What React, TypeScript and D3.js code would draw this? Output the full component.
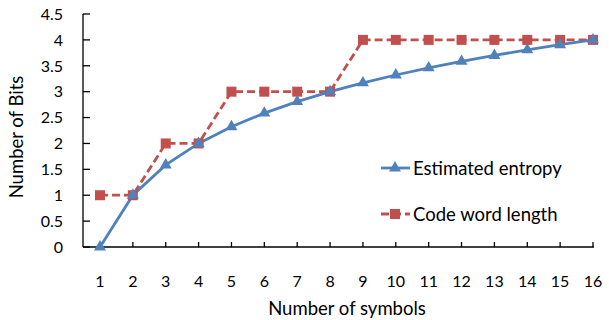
import React from "react";
import * as d3 from "d3";

const symbols = [1, 2, 3, 4, 5, 6, 7, 8, 9, 10, 11, 12, 13, 14, 15, 16];
const entropy = [0, 1, 1.585, 2, 2.322, 2.585, 2.807, 3, 3.17, 3.322, 3.459, 3.585, 3.7, 3.807, 3.907, 4];
const codeLength = [1, 1, 2, 2, 3, 3, 3, 3, 4, 4, 4, 4, 4, 4, 4, 4];
const yTicks = [0, 0.5, 1, 1.5, 2, 2.5, 3, 3.5, 4, 4.5];
const seriesNames = ["Estimated entropy", "Code word length"];

const W = 609, H = 320;
const BLUE = "#4F81BD", RED = "#C0504D";
const FONT = "Lato, 'Open Sans', sans-serif";

export default function App() {
  const x = d3.scaleLinear().domain([1, 16]).range([100, 593]);
  const y = d3.scaleLinear().domain([0, 4.5]).range([247, 14]);
  const line = d3.line<number>().x((_, i) => x(symbols[i])).y(d => y(d));
  const tri = d3.symbol().type(d3.symbolTriangle).size(62)();
  return (
    <svg width={W} height={H} style={{ position: "absolute", left: 0, top: 0, background: "#fff" }}
      fontFamily={FONT} fill="#000">
      {/* axes */}
      <line x1={83} x2={83} y1={y(4.5)} y2={y(0)} stroke="#000" strokeWidth={1.3} />
      <line x1={83} x2={x(16) + 1} y1={y(0)} y2={y(0)} stroke="#000" strokeWidth={1.3} />
      {yTicks.map(t => (
        <g key={t}>
          <line x1={83} x2={90} y1={y(t)} y2={y(t)} stroke="#000" strokeWidth={1.3} />
          <text x={63} y={y(t)} dy="0.36em" textAnchor="end" fontSize={16}>{t}</text>
        </g>
      ))}
      {symbols.map(s => (
        <g key={s}>
          {s > 1 && <line x1={x(s)} x2={x(s)} y1={y(0)} y2={y(0) - 5} stroke="#000" strokeWidth={1.3} />}
          <text x={x(s)} y={287} textAnchor="middle" fontSize={16}>{s}</text>
        </g>
      ))}
      <text x={347} y={315} textAnchor="middle" fontSize={18.5}>Number of symbols</text>
      <text transform={`translate(23,137) rotate(-90)`} textAnchor="middle" fontSize={18.5}>Number of Bits</text>
      {/* series */}
      <path d={line(codeLength) || ""} fill="none" stroke={RED} strokeWidth={2.8} strokeDasharray="8,4" />
      <path d={line(entropy) || ""} fill="none" stroke={BLUE} strokeWidth={2.8} />
      {codeLength.map((v, i) => (
        <rect key={"c" + i} x={x(symbols[i]) - 5} y={y(v) - 5} width={10} height={10} fill={RED} />
      ))}
      {entropy.map((v, i) => (
        <path key={"e" + i} d={tri || ""} transform={`translate(${x(symbols[i])},${y(v)})`} fill={BLUE} />
      ))}
      {/* legend */}
      <line x1={381} x2={410} y1={168} y2={168} stroke={BLUE} strokeWidth={2.8} />
      <path d={tri || ""} transform="translate(395,168)" fill={BLUE} />
      <text x={413} y={175} fontSize={18.5}>{seriesNames[0]}</text>
      <line x1={381} x2={410} y1={214} y2={214} stroke={RED} strokeWidth={2.8} strokeDasharray="8,4" />
      <rect x={390} y={209} width={10} height={10} fill={RED} />
      <text x={413} y={221} fontSize={18.5}>{seriesNames[1]}</text>
    </svg>
  );
}
